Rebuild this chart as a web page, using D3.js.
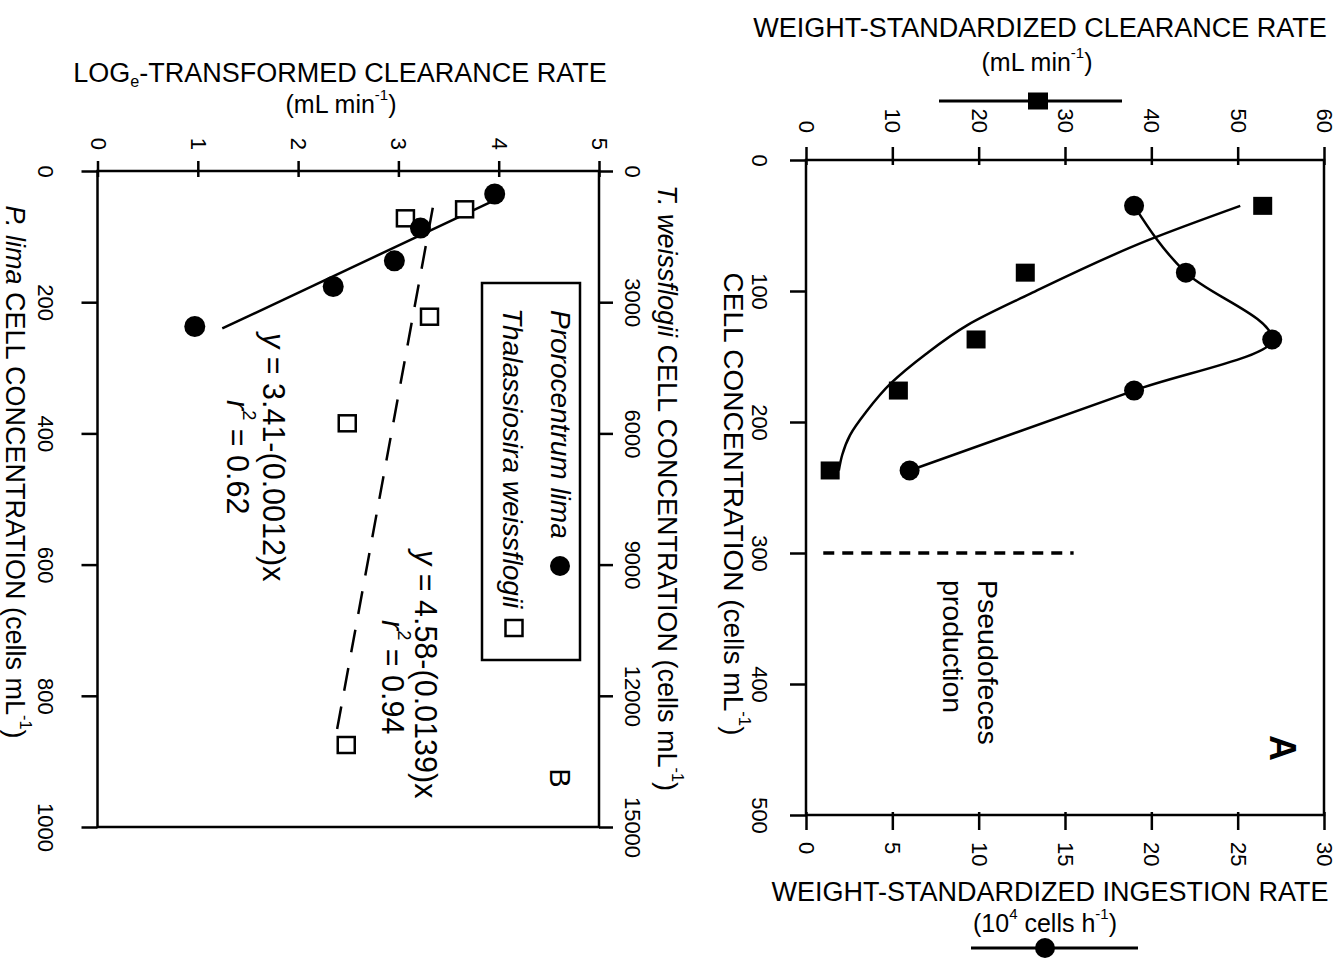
<!DOCTYPE html>
<html>
<head>
<meta charset="utf-8">
<script src="https://cdn.jsdelivr.net/npm/d3@7"></script>
<style>
  html, body { margin: 0; padding: 0; background: #fff; }
  svg { display: block; }
  text { font-family: "Liberation Sans", Arial, Helvetica, sans-serif; fill: #000; }
</style>
</head>
<body>
<svg id="chart" width="1342" height="959"></svg>
<script>
// ---------- Panel A: weight-standardized feeding on Prorocentrum lima ----------
const concA      = [35, 86, 137, 176, 237];          // cells mL-1
const clearanceA = [52.9, 25.4, 19.7, 10.7, 2.8];    // mL min-1
const ingestionA = [19.0, 22.0, 27.0, 19.0, 6.0];    // 10^4 cells h-1
// fitted clearance-rate curve
const clearFitConc = [35, 61, 102, 126, 148, 170, 192, 210, 225, 237];
const clearFitRate = [50.3, 39.7, 26.0, 18.7, 13.9, 9.9, 7.0, 5.1, 4.2, 3.8];
// pseudofeces threshold
const pseudoConc = [300];
const pseudoIngestion = [1.0, 15.5];
const concTicksA  = [0, 100, 200, 300, 400, 500];
const clearTicks  = [0, 10, 20, 30, 40, 50, 60];
const ingestTicks = [0, 5, 10, 15, 20, 25, 30];

// ---------- Panel B: log-transformed clearance rates ----------
const limaConc   = [35, 87, 137, 176, 237];
const limaLog    = [3.96, 3.22, 2.96, 2.35, 0.97];
const weissConc  = [876, 1082, 3332, 5769, 13125];
const weissLog   = [3.66, 3.07, 3.31, 2.49, 2.48];
const limaFit    = [4.58, 0.0139];     // intercept, slope per P. lima cell
const limaFitRange  = [43, 240];
const weissFit   = [3.41, 0.0012];     // intercept, slope per lower-axis unit
const weissFitRange = [840, 13050];
const logTicks   = [0, 1, 2, 3, 4, 5];
const limaTicks  = [0, 200, 400, 600, 800, 1000];
const weissTicks = [0, 3000, 6000, 9000, 12000, 15000];

const svg = d3.select("#chart");
const SW = 2.5;
const TICK_FS = 22;
const fmt = d3.format("d");

// text helper: parts may be italic, superscript or subscript
function addParts(textEl, parts, fs) {
  let shift = 0;
  parts.forEach(p => {
    const ts = textEl.append("tspan").text(p.t);
    const target = p.sup ? -0.4 * fs : (p.sub ? 0.28 * fs : 0);
    if (target - shift !== 0) ts.attr("dy", target - shift);
    shift = target;
    if (p.sup || p.sub) ts.attr("font-size", fs * 0.6);
    if (p.it) ts.attr("font-style", "italic");
  });
  return textEl;
}
function label(x, y, parts, fs, opts = {}) {
  const t = svg.append("text")
    .attr("transform", `translate(${x},${y})` + (opts.rot ? " rotate(90)" : ""))
    .attr("text-anchor", opts.anchor || "middle")
    .attr("dominant-baseline", "central")
    .attr("font-size", fs);
  if (opts.bold) t.attr("font-weight", "bold");
  return addParts(t, parts, fs);
}
function styleAxis(g) {
  g.attr("font-size", null).attr("font-family", null);
  g.select(".domain").remove();
  g.selectAll(".tick line").attr("stroke", "#000").attr("stroke-width", SW);
  g.selectAll(".tick text").attr("x", null).attr("y", null).attr("dy", null)
    .attr("font-size", TICK_FS).attr("dominant-baseline", "central");
}

// ================= Panel A =================
const clearX = d3.scaleLinear().domain([0, 60]).range([806, 1324]);
const ingestX = d3.scaleLinear().domain([0, 30]).range([806, 1324]);
const concYA = d3.scaleLinear().domain([0, 500]).range([160, 815]);

const gTopA = svg.append("g").attr("transform", "translate(0,160)")
  .call(d3.axisTop(clearX).tickValues(clearTicks).tickFormat(fmt).tickSize(13).tickSizeOuter(0));
styleAxis(gTopA);
gTopA.selectAll(".tick line").attr("y1", 5);
gTopA.selectAll(".tick text").attr("text-anchor", "end")
  .attr("transform", "translate(0,-27) rotate(90)");

const gBotA = svg.append("g").attr("transform", "translate(0,815)")
  .call(d3.axisBottom(ingestX).tickValues(ingestTicks).tickFormat(fmt).tickSize(15).tickSizeOuter(0));
styleAxis(gBotA);
gBotA.selectAll(".tick line").attr("y1", -3);
gBotA.selectAll(".tick text").attr("text-anchor", "start")
  .attr("transform", "translate(0,27) rotate(90)");

const gLeftA = svg.append("g").attr("transform", "translate(806,0)")
  .call(d3.axisLeft(concYA).tickValues(concTicksA).tickFormat(fmt).tickSize(16).tickSizeOuter(0));
styleAxis(gLeftA);
gLeftA.selectAll(".tick text").attr("text-anchor", "middle")
  .attr("transform", "translate(-47,0) rotate(90)");

svg.append("path")
  .attr("d", `M${clearX(0)},${concYA(0)}H${clearX(60)}V${concYA(500)}H${clearX(0)}Z`)
  .attr("fill", "none").attr("stroke", "#000").attr("stroke-width", SW);

// pseudofeces threshold
svg.append("line")
  .attr("x1", ingestX(pseudoIngestion[0])).attr("x2", ingestX(pseudoIngestion[1]))
  .attr("y1", concYA(pseudoConc[0])).attr("y2", concYA(pseudoConc[0]))
  .attr("stroke", "#000").attr("stroke-width", 3.5).attr("stroke-dasharray", "11 8");
label(988, 580, [{ t: "Pseudofeces" }], 28.5, { rot: true, anchor: "start" });
label(953, 580, [{ t: "production" }], 28.5, { rot: true, anchor: "start" });
label(1283, 748, [{ t: "A" }], 36, { rot: true, bold: true });

// fitted clearance curve
svg.append("path")
  .attr("d", d3.line()
    .x((d, i) => clearX(clearFitRate[i]))
    .y(d => concYA(d))
    .curve(d3.curveMonotoneY)(clearFitConc))
  .attr("fill", "none").attr("stroke", "#000").attr("stroke-width", SW);

// ingestion curve
svg.append("path")
  .attr("d", d3.line()
    .x((d, i) => ingestX(ingestionA[i]))
    .y(d => concYA(d))
    .curve(d3.curveMonotoneY)(concA))
  .attr("fill", "none").attr("stroke", "#000").attr("stroke-width", SW);

svg.append("g").selectAll("rect").data(concA).join("rect")
  .attr("x", (d, i) => clearX(clearanceA[i]) - 9.5)
  .attr("y", d => concYA(d) - 9)
  .attr("width", 19).attr("height", 18).attr("fill", "#000");
svg.append("g").selectAll("circle").data(concA).join("circle")
  .attr("cx", (d, i) => ingestX(ingestionA[i]))
  .attr("cy", d => concYA(d)).attr("r", 10).attr("fill", "#000");

// axis titles, panel A
label(1040, 28, [{ t: "WEIGHT-STANDARDIZED CLEARANCE RATE" }], 27);
label(1037, 62, [{ t: "(mL min" }, { t: "-1", sup: true }, { t: ")" }], 25);
svg.append("line").attr("x1", 939).attr("x2", 1122).attr("y1", 101).attr("y2", 101)
  .attr("stroke", "#000").attr("stroke-width", 3);
svg.append("rect").attr("x", 1028).attr("y", 92.5).attr("width", 20).attr("height", 17).attr("fill", "#000");

label(1050, 892, [{ t: "WEIGHT-STANDARDIZED INGESTION RATE" }], 27);
label(1045, 923, [{ t: "(10" }, { t: "4", sup: true }, { t: " cells h" }, { t: "-1", sup: true }, { t: ")" }], 25);
svg.append("line").attr("x1", 971).attr("x2", 1138).attr("y1", 948).attr("y2", 948)
  .attr("stroke", "#000").attr("stroke-width", 3);
svg.append("circle").attr("cx", 1045).attr("cy", 948).attr("r", 10).attr("fill", "#000");

label(734, 504, [{ t: "CELL CONCENTRATION (cells mL" }, { t: "-1", sup: true }, { t: ")" }], 28, { rot: true });

// ================= Panel B =================
const logX = d3.scaleLinear().domain([0, 5]).range([97.5, 599]);
const limaY = d3.scaleLinear().domain([0, 1000]).range([171, 827]);
const weissY = d3.scaleLinear().domain([0, 15000]).range([171, 827]);

const gTopB = svg.append("g").attr("transform", "translate(0,171)")
  .call(d3.axisTop(logX).tickValues(logTicks).tickFormat(fmt).tickSize(10).tickSizeOuter(0));
styleAxis(gTopB);
gTopB.selectAll(".tick line").attr("y1", 6);
gTopB.selectAll(".tick text").attr("text-anchor", "end")
  .attr("transform", "translate(0,-21) rotate(90)");

const gLeftB = svg.append("g").attr("transform", "translate(97.5,0)")
  .call(d3.axisLeft(limaY).tickValues(limaTicks).tickFormat(fmt).tickSize(16).tickSizeOuter(0));
styleAxis(gLeftB);
gLeftB.selectAll(".tick text").attr("text-anchor", "middle")
  .attr("transform", "translate(-52,0) rotate(90)");

const gRightB = svg.append("g").attr("transform", "translate(599,0)")
  .call(d3.axisRight(weissY).tickValues(weissTicks).tickFormat(fmt).tickSize(14).tickSizeOuter(0));
styleAxis(gRightB);
gRightB.selectAll(".tick text").attr("text-anchor", "middle")
  .attr("transform", "translate(33,0) rotate(90)");

svg.append("path")
  .attr("d", `M${logX(0)},${limaY(0)}H${logX(5)}V${limaY(1000)}H${logX(0)}Z`)
  .attr("fill", "none").attr("stroke", "#000").attr("stroke-width", SW);

// regression lines
svg.append("path")
  .attr("d", d3.line()
    .x(c => logX(limaFit[0] - limaFit[1] * c))
    .y(c => limaY(c))(limaFitRange))
  .attr("fill", "none").attr("stroke", "#000").attr("stroke-width", SW);
svg.append("path")
  .attr("d", d3.line()
    .x(c => logX(weissFit[0] - weissFit[1] * limaY.invert(weissY(c))))
    .y(c => weissY(c))(weissFitRange))
  .attr("fill", "none").attr("stroke", "#000").attr("stroke-width", SW)
  .attr("stroke-dasharray", "23 16");

svg.append("g").selectAll("rect").data(weissConc).join("rect")
  .attr("x", (d, i) => logX(weissLog[i]) - 8.5)
  .attr("y", d => weissY(d) - 8)
  .attr("width", 17).attr("height", 16)
  .attr("fill", "#fff").attr("stroke", "#000").attr("stroke-width", SW);
svg.append("g").selectAll("circle").data(limaConc).join("circle")
  .attr("cx", (d, i) => logX(limaLog[i]))
  .attr("cy", d => limaY(d)).attr("r", 10.5).attr("fill", "#000");

// equations
label(274, 333, [{ t: "y", it: true }, { t: " = 3.41-(0.0012)x" }], 30.5, { rot: true, anchor: "start" });
label(238, 400, [{ t: "r", it: true }, { t: "2", sup: true }, { t: " = 0.62" }], 30.5, { rot: true, anchor: "start" });
label(426, 550, [{ t: "y", it: true }, { t: " = 4.58-(0.0139)x" }], 30.5, { rot: true, anchor: "start" });
label(393, 620, [{ t: "r", it: true }, { t: "2", sup: true }, { t: " = 0.94" }], 30.5, { rot: true, anchor: "start" });
label(560, 778, [{ t: "B" }], 29, { rot: true });

// legend
svg.append("rect").attr("x", 482).attr("y", 283).attr("width", 98).attr("height", 377)
  .attr("fill", "none").attr("stroke", "#000").attr("stroke-width", SW);
label(561, 310, [{ t: "Prorocentrum lima", it: true }], 28, { rot: true, anchor: "start" });
svg.append("circle").attr("cx", 560).attr("cy", 566).attr("r", 10).attr("fill", "#000");
label(513, 308, [{ t: "Thalassiosira weissflogii", it: true }], 28, { rot: true, anchor: "start" });
svg.append("rect").attr("x", 505.5).attr("y", 620).attr("width", 17).attr("height", 16)
  .attr("fill", "#fff").attr("stroke", "#000").attr("stroke-width", SW);

// axis titles, panel B
label(340, 73, [{ t: "LOG" }, { t: "e", sub: true }, { t: "-TRANSFORMED CLEARANCE RATE" }], 27);
label(341, 104, [{ t: "(mL min" }, { t: "-1", sup: true }, { t: ")" }], 25);
label(15, 472, [{ t: "P. lima", it: true }, { t: " CELL CONCENTRATION (cells mL" }, { t: "-1", sup: true }, { t: ")" }], 27, { rot: true });
label(667, 488, [{ t: "T. weissflogii", it: true }, { t: " CELL CONCENTRATION (cells mL" }, { t: "-1", sup: true }, { t: ")" }], 27, { rot: true });
</script>
</body>
</html>
